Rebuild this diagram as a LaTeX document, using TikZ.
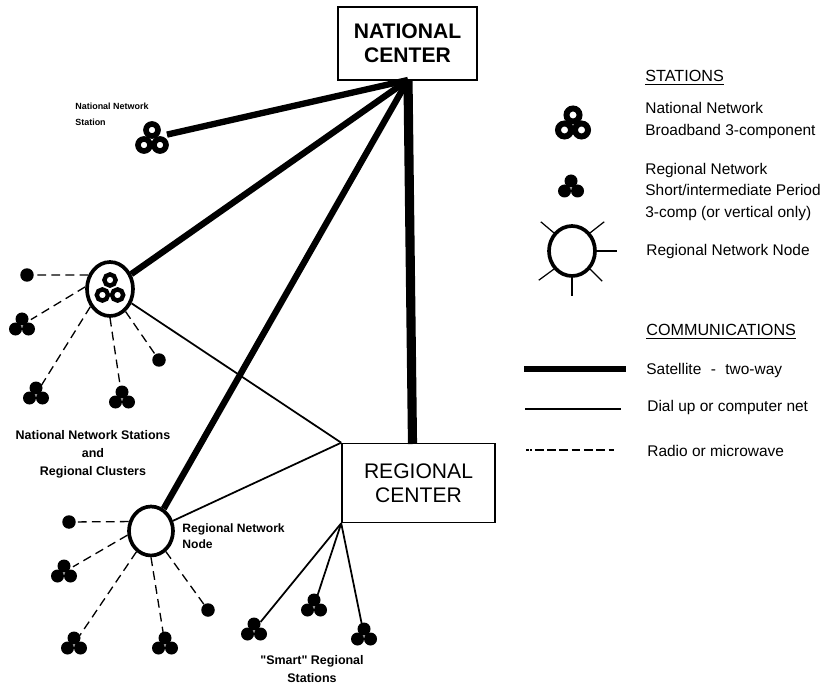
\documentclass[tikz,border=0pt]{standalone}
\usepackage{fontspec}
\setmainfont{Liberation Sans}
\newfontfamily\quotefont{Liberation Sans}
\usetikzlibrary{shapes.geometric}
\tikzset{
  center box/.style={draw, line width=0.9pt, fill=white, align=center, font=\fontsize{12}{13.8}\selectfont},
  hub/.style={draw, ellipse, line width=2.1pt, fill=white, inner sep=0pt},
  dot/.style={circle, fill=black, inner sep=0pt, minimum size=0.27cm},
  sta/.style={circle, inner sep=0pt, minimum size=0.4cm},
  satlink/.style={line width=3.6pt},
  diallink/.style={line width=1pt},
  radiolink/.style={line width=0.75pt, dash pattern=on 5pt off 3pt},
  label/.style={align=left, anchor=west, inner sep=0pt, font=\fontsize{8.8}{12.2}\selectfont},
  heading/.style={label, font=\fontsize{9.2}{12}\selectfont},
  caption/.style={align=center, inner sep=0pt, font=\fontsize{7.1}{10.2}\selectfont\bfseries}
}
% small solid station
\newcommand{\smallsta}[3]{
  \node [sta] (#1) at (#2,#3) {};
  \fill [black] (#2,#3+6) circle (6.5);
  \fill [black] (#2-6.5,#3-4) circle (6.5);
  \fill [black] (#2+6.5,#3-4) circle (6.5);
}
% broadband station, three rings
\newcommand{\ringsta}[5]{
  \node [sta, minimum size=0.6cm] (#1) at (#2,#3) {};
  \draw [line width=#5pt] (#2,#3+8) circle (#4);
  \draw [line width=#5pt] (#2-#4-2,#3-7) circle (#4);
  \draw [line width=#5pt] (#2+#4+2,#3-7) circle (#4);
}
\begin{document}
\begin{tikzpicture}[x=0.02cm,y=0.02cm]
\useasboundingbox (0,0) rectangle (831,-692);
\coordinate (apex) at (408,-80);
\coordinate (regtop) at (412.5,-444);
\node [center box, minimum width=2.78cm, minimum height=1.46cm] (natl) at (407.5,-43.5) {\bfseries NATIONAL\\\bfseries CENTER};
\node [center box, minimum width=3.06cm, minimum height=1.58cm] (regc) at (418.5,-483) {REGIONAL\\CENTER};
% national network station
\ringsta{nns}{152}{-138}{6}{3.2}
\draw [satlink] (nns) -- (apex);
\node [label, font=\fontsize{5.1}{9}\selectfont\bfseries] (nnslabel) at (75,-114) {National Network\\Station};
% cluster round the national station
\node [hub, minimum width=0.92cm, minimum height=1.08cm] (hubn) at (110,-289) {};
\ringsta{nnc}{110}{-288}{5.6}{2.5}
\draw [satlink] (hubn) -- (apex);
\draw [diallink] (hubn) -- (regc.north west);
\node [dot] (a1) at (27,-275) {};
\smallsta{a2}{22}{-325}
\smallsta{a3}{36}{-394}
\smallsta{a4}{122}{-398}
\node [dot] (a5) at (159,-360) {};
\draw [radiolink] (hubn.147) -- (a1);
\draw [radiolink] (hubn.175) -- (a2);
\draw [radiolink] (hubn.222) -- (a3);
\draw [radiolink] (hubn.270) -- (a4);
\draw [radiolink] (hubn) -- (a5);
\node [caption] (clusterlabel) at (93,-454) {National Network Stations\\and\\Regional Clusters};
% regional network node
\node [hub, minimum width=0.88cm, minimum height=0.98cm] (hubr) at (151,-531) {};
\draw [satlink] (hubr) -- (apex);
\draw [diallink] (hubr) -- (regc.north west);
\node [dot] (b1) at (69,-522) {};
\smallsta{b2}{64}{-572}
\smallsta{b3}{74}{-644}
\smallsta{b4}{165}{-644}
\node [dot] (b5) at (208,-610) {};
\draw [radiolink] (hubr.157) -- (b1);
\draw [radiolink] (hubr.190) -- (b2);
\draw [radiolink] (hubr.235) -- (b3);
\draw [radiolink] (hubr.270) -- (b4);
\draw [radiolink] (hubr) -- (b5);
\node [label, font=\fontsize{6.9}{9.2}\selectfont\bfseries] (hublabel) at (182,-536) {Regional Network\\Node};
% smart stations
\smallsta{c1}{254}{-630}
\smallsta{c2}{314}{-606}
\smallsta{c3}{364}{-635}
\draw [diallink] (regc.south west) -- (c1);
\draw [diallink] (regc.south west) -- (c2);
\draw [diallink] (regc.south west) -- (c3);
\node [caption] (smartlabel) at (312,-669) {{\quotefont\bfseries"}Smart{\quotefont\bfseries"} Regional\\Stations};
\draw [satlink, line width=5.2pt] (apex) -- (regtop);
% legend
\node [heading] (stahead) at (645,-78) {\underline{STATIONS}};
\ringsta{leg1}{573}{-123}{6.5}{3.4}
\node [label] (leg1text) at (645,-120.5) {National Network\\Broadband 3-component};
\smallsta{leg2}{571}{-187}
\node [label] (leg2text) at (645,-192) {Regional Network\\Short/intermediate Period\\3-comp (or vertical only)};
\node [hub, minimum width=0.92cm, minimum height=1cm] (leg3) at (572,-251) {};
\draw [line width=0.7pt] (leg3.0) -- ++(20,0);
\draw [line width=0.7pt] (leg3.270) -- ++(0,-18);
\draw [line width=0.7pt] (leg3.45) -- ++(14,11);
\draw [line width=0.7pt] (leg3.135) -- ++(-13,11);
\draw [line width=0.7pt] (leg3.225) -- ++(-15,-11);
\draw [line width=0.7pt] (leg3.315) -- ++(12,-12);
\node [label] (leg3text) at (646,-252) {Regional Network Node};
\node [heading] (comhead) at (646,-332) {\underline{COMMUNICATIONS}};
\coordinate (s1) at (524,-369);
\coordinate (s2) at (626,-369);
\coordinate (d1) at (525,-409);
\coordinate (d2) at (621,-409);
\coordinate (r1) at (526,-450);
\coordinate (r2) at (620,-450);
\draw [satlink, line width=3.6pt] (s1) -- (s2);
\draw [diallink] (d1) -- (d2);
\draw [radiolink, dash pattern=on 1.5pt off 1pt on 1pt off 1.5pt on 5pt off 2pt on 5pt off 2pt on 5pt off 2pt on 5pt off 2pt on 5pt off 2pt on 5pt off 2pt on 3pt off 9pt] (r1) -- (r2);
\node [label] (stext) at (646,-371) {Satellite\,\, -\,\, two-way};
\node [label] (dtext) at (647,-408) {Dial up or computer net};
\node [label] (rtext) at (647,-451) {Radio or microwave};
\end{tikzpicture}
\end{document}
